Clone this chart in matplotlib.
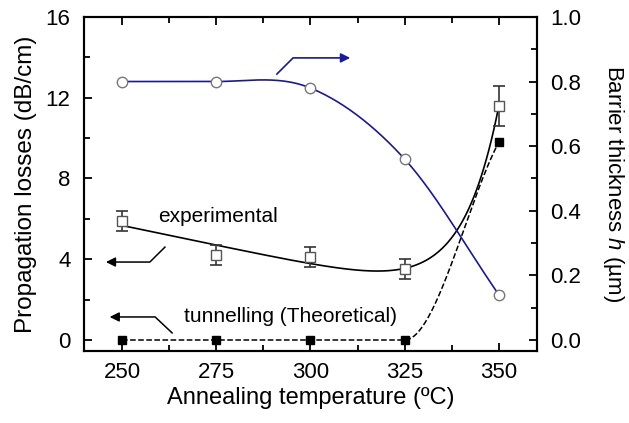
import numpy as np
import matplotlib
matplotlib.use("Agg")
from matplotlib import pyplot as plt
from matplotlib.ticker import MultipleLocator

plt.rcParams['font.family'] = ['Liberation Sans', 'DejaVu Sans']
plt.rcParams['mathtext.fontset'] = 'custom'
plt.rcParams['mathtext.it'] = 'Liberation Sans:italic'
plt.rcParams['mathtext.rm'] = 'Liberation Sans'

# data
temps = np.array([250, 275, 300, 325, 350])
exp_loss = np.array([5.9, 4.2, 4.1, 3.5, 11.6])
exp_err = np.array([0.5, 0.5, 0.5, 0.5, 1.0])
theo_loss = np.array([0.0, 0.0, 0.0, 0.0, 9.8])
barrier = np.array([0.80, 0.80, 0.78, 0.56, 0.14])


def hermite(x, y, slopes, n=60):
    # piecewise cubic through the points with given slopes
    xs, ys = [], []
    for i in range(len(x) - 1):
        t = np.linspace(0, 1, n)
        h = x[i + 1] - x[i]
        h00 = 2*t**3 - 3*t**2 + 1
        h10 = t**3 - 2*t**2 + t
        h01 = -2*t**3 + 3*t**2
        h11 = t**3 - t**2
        xs.append(x[i] + t*h)
        ys.append(h00*y[i] + h10*h*slopes[i] + h01*y[i+1] + h11*h*slopes[i+1])
    return np.concatenate(xs), np.concatenate(ys)


fig, ax = plt.subplots(figsize=(6.29, 4.23), dpi=100)
fig.subplots_adjust(left=0.134, right=0.853, top=0.96, bottom=0.17)
ax2 = ax.twinx()

# experimental: smooth fit (guide to the eye)
k = 10.0
A = np.column_stack([np.ones(len(temps)), temps - 250.0, np.exp((temps - 350) / k)])
coef, *_ = np.linalg.lstsq(A, exp_loss, rcond=None)
xf = np.linspace(250, 350, 300)
yf = coef[0] + coef[1]*(xf - 250) + coef[2]*np.exp((xf - 350)/k)
ax.plot(xf, yf, color='black', lw=1.2, zorder=2)
ax.errorbar(temps, exp_loss, yerr=exp_err, fmt='s', mfc='white', mec='#555555',
            ms=7, ecolor='#333333', elinewidth=1.2, capsize=4, capthick=1.2, zorder=4)

# theoretical tunnelling
tslopes = [0, 0, 0, 0, 0.35]
xt, yt = hermite(temps, theo_loss, tslopes)
ax.plot(xt, yt, color='black', ls='--', lw=1.1, zorder=2)
ax.plot(temps, theo_loss, 's', color='black', ms=6, zorder=4)

# barrier thickness
bslopes = np.gradient(barrier, temps)
bslopes[0] = 0
bslopes[1] = 0
xb, yb = hermite(temps, barrier, bslopes)
ax2.plot(xb, yb, color='#1a1a8c', lw=1.2, zorder=2)
ax2.plot(temps, barrier, 'o', mfc='white', mec='#777777', ms=7.5, zorder=4)

ax.set_xlim(240, 360)
ax.set_ylim(-0.55, 16)
ax2.set_ylim(-0.55/16, 1.0)

ax.set_xticks([250, 275, 300, 325, 350])
ax.xaxis.set_minor_locator(MultipleLocator(12.5))
ax.set_yticks([0, 4, 8, 12, 16])
ax.yaxis.set_minor_locator(MultipleLocator(2))
ax2.set_yticks([0.0, 0.2, 0.4, 0.6, 0.8, 1.0])
ax2.set_yticklabels(['0.0', '0.2', '0.4', '0.6', '0.8', '1.0'])
ax2.yaxis.set_minor_locator(MultipleLocator(0.1))

ax.tick_params(axis='x', which='both', direction='in', top=True, labelsize=16, pad=8)
ax.tick_params(axis='y', which='both', direction='in', labelsize=16, pad=10)
ax2.tick_params(axis='y', which='both', direction='in', labelsize=16, pad=10)
for a in (ax, ax2):
    a.tick_params(which='major', length=6, width=1.3)
    a.tick_params(which='minor', length=4, width=1.3)
    for s in a.spines.values():
        s.set_linewidth(1.5)

ax.set_xlabel('Annealing temperature (ºC)', fontsize=17, labelpad=3)
ax.set_ylabel('Propagation losses (dB/cm)', fontsize=17.5, labelpad=6)
ax2.set_ylabel('Barrier thickness $h$ (µm)', fontsize=16, rotation=270, labelpad=32)

# annotations
ax.text(259.5, 6.1, 'experimental', fontsize=15, va='center')
ax.text(266.5, 1.14, 'tunnelling (Theoretical)', fontsize=15, va='center')

ax.plot([261.4, 257.4, 249.0], [4.6, 3.86, 3.86], color='black', lw=1.1)
ax.annotate('', xy=(245.0, 3.86), xytext=(249.5, 3.86),
            arrowprops=dict(arrowstyle='-|>', color='black', lw=1.1, mutation_scale=14))
ax.plot([263.3, 258.8, 250.0], [0.35, 1.14, 1.14], color='black', lw=1.1)
ax.annotate('', xy=(246.0, 1.14), xytext=(250.5, 1.14),
            arrowprops=dict(arrowstyle='-|>', color='black', lw=1.1, mutation_scale=14))
ax.plot([291.1, 295.4, 307.0], [13.17, 13.97, 13.97], color='#1a1a8c', lw=1.2)
ax.annotate('', xy=(311.3, 13.97), xytext=(306.5, 13.97),
            arrowprops=dict(arrowstyle='-|>', color='#1a1aa0', lw=1.2, mutation_scale=14))

fig.savefig('out.png', dpi=100)
